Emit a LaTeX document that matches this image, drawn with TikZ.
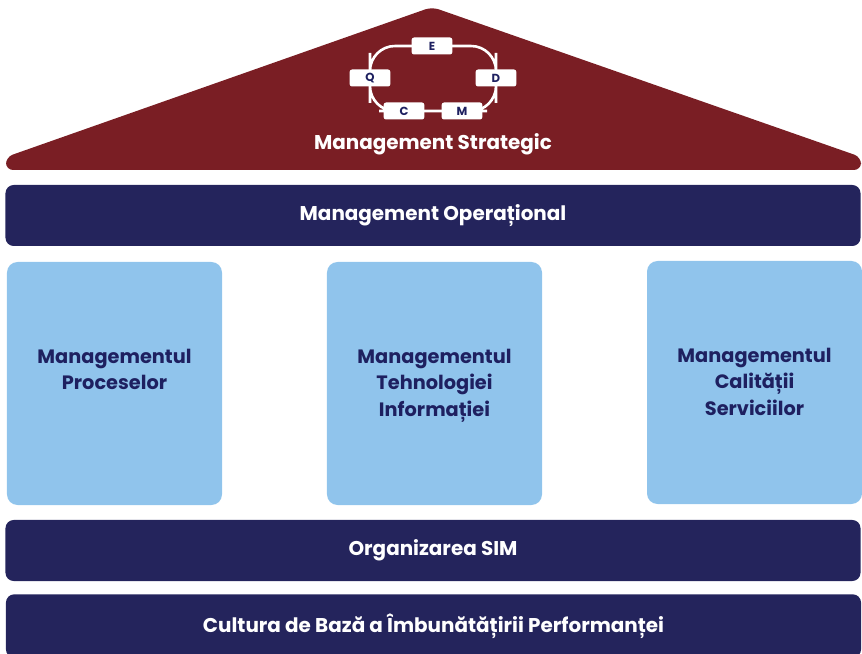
\documentclass[tikz,border=0pt]{standalone}
\usepackage{fontspec}
\setmainfont{Poppins}
\usepackage{xcolor}

\definecolor{roofred}{RGB}{122,30,36}
\definecolor{barnavy}{RGB}{36,36,92}
\definecolor{pillarblue}{RGB}{144,196,236}
\definecolor{textnavy}{RGB}{30,32,96}

\tikzset{
  bar/.style={fill=barnavy, rounded corners=7pt, minimum width=25.65cm, minimum height=1.83cm,
    text=white, font=\fontsize{17}{20}\selectfont\bfseries},
  pillar/.style={fill=pillarblue, rounded corners=9pt, minimum width=6.45cm, minimum height=7.29cm},
  pillartext/.style={text=textnavy, align=center, anchor=north, inner sep=0pt,
    font=\fontsize{16.5}{22.5}\selectfont\bfseries},
  letterbox/.style={fill=white, rounded corners=2pt, minimum width=1.22cm, minimum height=0.51cm,
    text=textnavy, inner sep=0pt, font=\fontsize{10}{10}\selectfont\bfseries}
}

\begin{document}
\begin{tikzpicture}[x=0.03cm, y=-0.03cm]
	\useasboundingbox (0,0) rectangle (862,654);
	% roof
	\fill[roofred, rounded corners=6pt] (6,170) -- (6,157) -- (432,7) -- (861,157) -- (861,170) -- cycle;
	\node[text=white, font=\fontsize{17}{20}\selectfont\bfseries] (strategic) at (433,144) {Management Strategic};

	% cycle on the roof
	\coordinate (E) at (432,46);
	\coordinate (Q) at (370,78);
	\coordinate (D) at (496,78);
	\coordinate (C) at (404,111);
	\coordinate (M) at (462,111);
	\draw[white, line width=2.2pt, rounded corners=0.75cm]
		(E) -| (D) |- (M) -- (C) -| (Q) |- (E);
	\foreach \l in {E,Q,D,C,M}
		\node[letterbox] (box\l) at (\l) {\l};

	% beams
	\node[bar] (oper) at (433,215.5) {Management Opera\char"021B ional};
	\node[bar] (sim) at (433,550.5) {Organizarea SIM};
	\node[bar, minimum height=1.9cm] (cult) at (433.5,626) {Cultura de Baz\u{a} a \^{I}mbun\u{a}t\u{a}\char"021B irii Performan\char"021B ei};

	% pillars
	\node[pillar] (proc) at (114.5,383.5) {};
	\node[pillar] (ti) at (434.5,383.5) {};
	\node[pillar] (cal) at (754.5,382.5) {};
	\node[pillartext] (proctext) at (114.5,349) {Managementul\\Proceselor};
	\node[pillartext] (titext) at (434.5,349) {Managementul\\Tehnologiei\\Informa\char"021B iei};
	\node[pillartext] (caltext) at (754.5,348) {Managementul\\Calit\u{a}\char"021B ii\\Serviciilor};
\end{tikzpicture}
\end{document}
